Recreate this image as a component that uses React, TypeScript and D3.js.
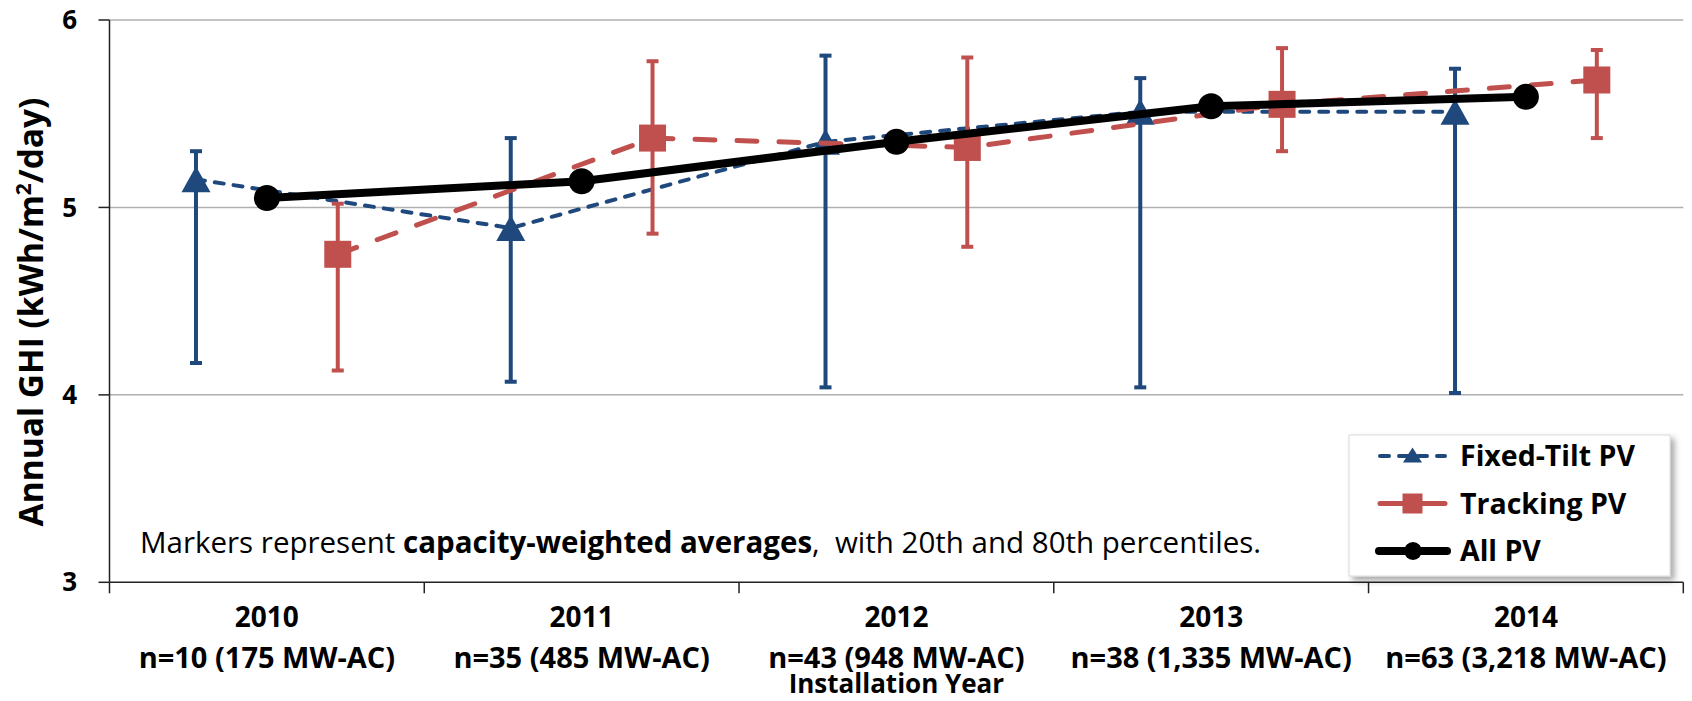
import * as d3 from "d3";

// data
const years = ["2010", "2011", "2012", "2013", "2014"];
const sampleLabels = [
  "n=10 (175 MW-AC)",
  "n=35 (485 MW-AC)",
  "n=43 (948 MW-AC)",
  "n=38 (1,335 MW-AC)",
  "n=63 (3,218 MW-AC)",
];
const series = ["fixed", "all", "tracking"];

const fixedAvg = [5.15, 4.89, 5.35, 5.51, 5.51];
const fixedP20 = [4.17, 4.07, 4.04, 4.04, 4.01];
const fixedP80 = [5.3, 5.37, 5.81, 5.69, 5.74];

const trackAvg = [4.75, 5.37, 5.32, 5.55, 5.68];
const trackP20 = [4.13, 4.86, 4.79, 5.3, 5.37];
const trackP80 = [5.02, 5.78, 5.8, 5.85, 5.84];

const allAvg = [5.05, 5.14, 5.35, 5.54, 5.59];

const yTicks = [3, 4, 5, 6];

const width = 1692;
const height = 701;
const marginLeft = 109.5;
const marginRight = 8.7;
const marginTop = 20;
const marginBottom = 118.7;

const BLUE = "#1F497D";
const RED = "#C0504D";
const FONT = "'Open Sans', sans-serif";

const App = () => {
  const chartBottomY = height - marginBottom;

  const xScale = d3
    .scaleBand()
    .domain(years)
    .range([marginLeft, width - marginRight]);

  // position of each series inside a year band
  const inner = d3
    .scalePoint()
    .domain(series)
    .range([0, xScale.bandwidth()])
    .padding(1.22);

  const yScale = d3.scaleLinear().domain([3, 6]).range([chartBottomY, marginTop]);

  const px = (s: string, i: number) => (xScale(years[i]) as number) + (inner(s) as number);

  const line = (s: string) =>
    d3
      .line<number>()
      .x((_, i) => px(s, i))
      .y((d) => yScale(d));

  const tri = (cx: number, cy: number, w: number, h: number) =>
    `M${cx},${cy - h / 2}L${cx + w / 2},${cy + h / 2}L${cx - w / 2},${cy + h / 2}Z`;

  const errorBars = (s: string, lo: number[], hi: number[], color: string, sw: number) =>
    years.map((y, i) => {
      const x = px(s, i);
      return (
        <g key={y} stroke={color} strokeWidth={sw}>
          <line x1={x} x2={x} y1={yScale(lo[i])} y2={yScale(hi[i])} />
          <line x1={x - 6} x2={x + 6} y1={yScale(lo[i])} y2={yScale(lo[i])} />
          <line x1={x - 6} x2={x + 6} y1={yScale(hi[i])} y2={yScale(hi[i])} />
        </g>
      );
    });

  // legend
  const legX = 1349;
  const legY = 435;
  const legW = 321;
  const legH = 141;
  const legendRows = [
    { name: "Fixed-Tilt PV", y: 456 },
    { name: "Tracking PV", y: 503.5 },
    { name: "All PV", y: 551 },
  ];

  return (
    <svg
      width={width}
      height={height}
      viewBox={`0 0 ${width} ${height}`}
      style={{ position: "absolute", left: 0, top: 0, background: "#fff" }}
      fontFamily={FONT}
    >
      <defs>
        <filter id="shadow" x="-10%" y="-10%" width="130%" height="140%">
          <feDropShadow dx="4" dy="4" stdDeviation="3" floodColor="#000" floodOpacity="0.35" />
        </filter>
      </defs>

      {/* gridlines */}
      <g className="grid">
        {yTicks.slice(1).map((t) => (
          <line
            key={t}
            x1={marginLeft}
            x2={width - marginRight}
            y1={yScale(t)}
            y2={yScale(t)}
            stroke="#b0b0b0"
            strokeWidth={1.5}
          />
        ))}
      </g>

      {/* y axis */}
      <g className="y-axis">
        <line x1={marginLeft} x2={marginLeft} y1={marginTop} y2={chartBottomY} stroke="#222" strokeWidth={1.5} />
        {yTicks.map((t) => (
          <g key={t}>
            <line x1={marginLeft - 11} x2={marginLeft} y1={yScale(t)} y2={yScale(t)} stroke="#222" strokeWidth={1.5} />
            <text
              x={77}
              y={yScale(t)}
              dy="0.35em"
              textAnchor="end"
              fontSize={26}
              fontWeight="bold"
              fill="#000"
            >
              {t}
            </text>
          </g>
        ))}
        <text
          transform={`translate(43,312) rotate(-90)`}
          textAnchor="middle"
          fontSize={33.5}
          fontWeight="bold"
          fill="#000"
        >
          Annual GHI (kWh/m
          <tspan dy="-12" fontSize={21}>2</tspan>
          <tspan dy="12">/day)</tspan>
        </text>
      </g>

      {/* x axis */}
      <g className="x-axis">
        <line x1={marginLeft} x2={width - marginRight} y1={chartBottomY} y2={chartBottomY} stroke="#222" strokeWidth={1.5} />
        {[...years.map((y) => xScale(y) as number), width - marginRight].map((x, i) => (
          <line key={i} x1={x} x2={x} y1={chartBottomY} y2={chartBottomY + 11} stroke="#222" strokeWidth={1.5} />
        ))}
        {years.map((y, i) => {
          const cx = (xScale(y) as number) + xScale.bandwidth() / 2;
          return (
            <g key={y} fontWeight="bold" fill="#000" textAnchor="middle">
              <text x={cx} y={627} fontSize={28}>
                {y}
              </text>
              <text x={cx} y={668} fontSize={29}>
                {sampleLabels[i]}
              </text>
            </g>
          );
        })}
        <text x={(marginLeft + width - marginRight) / 2} y={693} textAnchor="middle" fontSize={26} fontWeight="bold">
          Installation Year
        </text>
      </g>

      {/* note */}
      <text x={140} y={553} fontSize={29.5} fill="#000" style={{ whiteSpace: "pre" }}>
        Markers represent <tspan fontWeight="bold">capacity-weighted averages</tspan>,  with 20th and 80th percentiles.
      </text>

      {/* Fixed-Tilt */}
      <g className="fixed">
        {errorBars("fixed", fixedP20, fixedP80, BLUE, 4)}
        <path
          d={line("fixed")(fixedAvg) as string}
          fill="none"
          stroke={BLUE}
          strokeWidth={4}
          strokeDasharray="9 10"
          strokeLinecap="round"
        />
        {fixedAvg.map((v, i) => (
          <path key={i} d={tri(px("fixed", i), yScale(v), 29, 26)} fill={BLUE} />
        ))}
      </g>

      {/* Tracking */}
      <g className="tracking">
        {errorBars("tracking", trackP20, trackP80, RED, 4)}
        <path
          d={line("tracking")(trackAvg) as string}
          fill="none"
          stroke={RED}
          strokeWidth={5}
          strokeDasharray="20 22"
          strokeLinecap="round"
        />
        {trackAvg.map((v, i) => (
          <rect key={i} x={px("tracking", i) - 13.5} y={yScale(v) - 13.5} width={27} height={27} fill={RED} />
        ))}
      </g>

      {/* All PV */}
      <g className="all">
        <path d={line("all")(allAvg) as string} fill="none" stroke="#000" strokeWidth={8} strokeLinejoin="round" />
        {allAvg.map((v, i) => (
          <circle key={i} cx={px("all", i)} cy={yScale(v)} r={13} fill="#000" />
        ))}
      </g>

      {/* legend */}
      <g className="legend">
        <rect x={legX} y={legY} width={legW} height={legH} fill="#fff" stroke="#d9d9d9" strokeWidth={1} filter="url(#shadow)" />
        {legendRows.map((r, i) => (
          <g key={r.name}>
            {i === 0 && (
              <>
                <line x1={1380} x2={1445} y1={r.y} y2={r.y} stroke={BLUE} strokeWidth={4} strokeDasharray="9 10" strokeLinecap="round" />
                <path d={tri(1412.5, r.y - 1, 19, 15)} fill={BLUE} />
              </>
            )}
            {i === 1 && (
              <>
                <line x1={1380} x2={1445} y1={r.y} y2={r.y} stroke={RED} strokeWidth={5} strokeLinecap="round" />
                <rect x={1402.5} y={r.y - 10} width={20} height={20} fill={RED} />
              </>
            )}
            {i === 2 && (
              <>
                <line x1={1379} x2={1447} y1={r.y} y2={r.y} stroke="#000" strokeWidth={8} strokeLinecap="round" />
                <circle cx={1413} cy={r.y} r={9} fill="#000" />
              </>
            )}
            <text x={1460} y={r.y + 10} fontSize={28.5} fontWeight="bold" fill="#000">
              {r.name}
            </text>
          </g>
        ))}
      </g>
    </svg>
  );
};

export default App;
